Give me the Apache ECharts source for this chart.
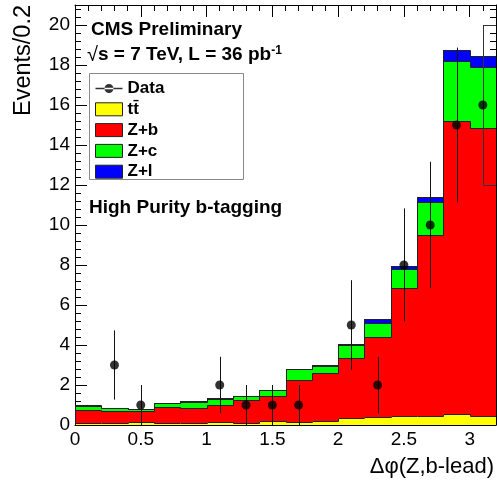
<!DOCTYPE html>
<html>
<head>
<meta charset="utf-8">
<script src="https://cdn.jsdelivr.net/npm/echarts@6/dist/echarts.min.js"></script>
<style>
  html, body { margin: 0; padding: 0; background: #fff; }
  #chart { width: 497px; height: 484px; }
</style>
</head>
<body>
<div id="chart"></div>
<script>
// bins of 0.2 in delta phi
const binEdges = [0, 0.2, 0.4, 0.6, 0.8, 1.0, 1.2, 1.4, 1.6, 1.8, 2.0, 2.2, 2.4, 2.6, 2.8, 3.0, 3.2];
const binCenters = [0.1, 0.3, 0.5, 0.7, 0.9, 1.1, 1.3, 1.5, 1.7, 1.9, 2.1, 2.3, 2.5, 2.7, 2.9, 3.1];

// stacked MC, read bin by bin
const ttbar = [0.10, 0.08, 0.13, 0.10, 0.12, 0.15, 0.12, 0.20, 0.13, 0.22, 0.33, 0.38, 0.43, 0.47, 0.53, 0.47];
const zb    = [0.63, 0.64, 0.55, 0.82, 0.71, 0.83, 1.13, 1.23, 2.12, 2.40, 3.02, 4.02, 6.42, 9.01, 14.67, 14.38];
const zc    = [0.22, 0.11, 0.10, 0.16, 0.32, 0.32, 0.20, 0.30, 0.53, 0.31, 0.63, 0.72, 0.93, 1.69, 3.00, 3.05];
const zl    = [0.03, 0.02, 0.02, 0.02, 0.03, 0.03, 0.02, 0.02, 0.02, 0.07, 0.05, 0.16, 0.19, 0.23, 0.55, 0.55];

// data points and their error bars
const dataCounts = [0, 3, 1, 0, 0, 2, 1, 1, 1, 0, 5, 2, 8, 10, 15, 16];
const dataErrors = [0, 1.73, 1, 0, 0, 1.41, 1, 1, 1, 0, 2.24, 1.41, 2.83, 3.16, 3.87, 4];

// odd outline box at top right (x from, y low, y high)
const cornerBox = [[3.1, 12, 20]];

const xTickValues = [0, 0.5, 1, 1.5, 2, 2.5, 3];
const xTickLabels = ['0', '0.5', '1', '1.5', '2', '2.5', '3'];
const yTickValues = [0, 2, 4, 6, 8, 10, 12, 14, 16, 18, 20];
const yTickLabels = ['0', '2', '4', '6', '8', '10', '12', '14', '16', '18', '20'];

const FONT = '"Liberation Sans", Arial, Helvetica, sans-serif';

const layers = [
  { name: 'tt\u0304', color: '#ffff00', values: ttbar },
  { name: 'Z+b', color: '#ff0000', values: zb },
  { name: 'Z+c', color: '#00ff00', values: zc },
  { name: 'Z+l', color: '#0000ff', values: zl }
];

// build stack
let run = ttbar.map(() => 0);
layers.forEach(l => {
  l.base = run;
  run = run.map((b, i) => b + l.values[i]);
  l.top = run;
});

const points = [];
dataCounts.forEach((v, i) => {
  if (v > 0) points.push({ x: binCenters[i], v: v, e: dataErrors[i] });
});

const lookup = (vals, labels) => v => {
  const k = vals.findIndex(t => Math.abs(t - v) < 1e-6);
  return k < 0 ? '' : labels[k];
};

const px = v => Math.round(v);
const ln = v => Math.round(v) + 0.5;

const fillSeries = layers.map(l => ({
  name: l.name,
  type: 'custom',
  clip: true,
  z: 2,
  itemStyle: { color: l.color },
  data: l.values.map((v, i) => [binEdges[i], binEdges[i + 1], l.base[i], l.top[i]]),
  renderItem: (params, api) => {
    const p0 = api.coord([api.value(0), api.value(2)]);
    const p1 = api.coord([api.value(1), api.value(3)]);
    const x0 = px(p0[0]), x1 = px(p1[0]), yb = px(p0[1]), yt = px(p1[1]);
    return {
      type: 'rect',
      shape: { x: x0, y: yt, width: x1 - x0, height: yb - yt },
      style: { fill: l.color }
    };
  }
}));

const outlineSeries = {
  type: 'custom',
  silent: true,
  clip: true,
  z: 3,
  data: binCenters.map((c, i) => [binEdges[i], binEdges[i + 1], i]),
  renderItem: (params, api) => {
    const i = api.value(2);
    const xa = ln(api.coord([api.value(0), 0])[0]);
    const xb = ln(api.coord([api.value(1), 0])[0]);
    const children = layers.map(l => {
      const yt = ln(api.coord([0, l.top[i]])[1]);
      const yp = ln(api.coord([0, i > 0 ? l.top[i - 1] : 0])[1]);
      return {
        type: 'polyline',
        shape: { points: [[xa, yp], [xa, yt], [xb, yt]] },
        style: { stroke: '#222', lineWidth: 1, fill: null }
      };
    });
    return { type: 'group', children: children };
  }
};

const errorSeries = {
  type: 'custom',
  silent: true,
  clip: true,
  z: 4,
  data: points.map(p => [p.x, p.v - p.e, p.v + p.e]),
  renderItem: (params, api) => {
    const lo = api.coord([api.value(0), api.value(1)]);
    const hi = api.coord([api.value(0), api.value(2)]);
    const x = ln(lo[0]);
    return {
      type: 'line',
      shape: { x1: x, y1: lo[1], x2: x, y2: hi[1] },
      style: { stroke: '#111', lineWidth: 1 }
    };
  }
};

const boxSeries = {
  type: 'custom',
  silent: true,
  clip: true,
  z: 4,
  data: cornerBox,
  renderItem: (params, api) => {
    const lo = api.coord([api.value(0), api.value(1)]);
    const hi = api.coord([api.value(0), api.value(2)]);
    const x = ln(lo[0]);
    return {
      type: 'polyline',
      shape: { points: [[x + 40, ln(hi[1])], [x, ln(hi[1])], [x, ln(lo[1])], [x + 40, ln(lo[1])]] },
      style: { stroke: '#333', lineWidth: 1, fill: null }
    };
  }
};

const dataIcon = 'path://M0,4h27v1.4h-27z M9,4.7a4.5,4.5 0 1,0 9,0a4.5,4.5 0 1,0 -9,0z';

function xAxisOf(pos, interval, len, labels) {
  return {
    type: 'value', position: pos, min: 0, max: 3.2, interval: interval,
    axisLine: { show: len > 10, onZero: false, lineStyle: { color: '#000', width: 1 } },
    axisTick: { show: true, inside: true, length: len, lineStyle: { color: '#000', width: 1 } },
    splitLine: { show: false },
    axisLabel: {
      show: labels, showMaxLabel: false, margin: 5,
      color: '#000', fontFamily: FONT, fontSize: 19,
      formatter: lookup(xTickValues, xTickLabels)
    }
  };
}
function yAxisOf(pos, interval, len, labels) {
  return {
    type: 'value', position: pos, min: 0, max: 21, interval: interval,
    axisLine: { show: len > 10, onZero: false, lineStyle: { color: '#000', width: 1 } },
    axisTick: { show: true, inside: true, length: len, lineStyle: { color: '#000', width: 1 } },
    splitLine: { show: false },
    axisLabel: {
      show: labels, showMaxLabel: false, margin: 5,
      color: '#000', fontFamily: FONT, fontSize: 19,
      formatter: lookup(yTickValues, yTickLabels)
    }
  };
}

const chart = echarts.init(document.getElementById('chart'), null, { renderer: 'canvas' });

chart.setOption({
  animation: false,
  backgroundColor: '#fff',
  grid: { left: 75, right: 1, top: 5, bottom: 59, containLabel: false, outerBoundsMode: 'none' },
  xAxis: [
    xAxisOf('bottom', 0.5, 12, true),
    xAxisOf('bottom', 0.1, 6, false),
    xAxisOf('top', 0.5, 12, false),
    xAxisOf('top', 0.1, 6, false)
  ],
  yAxis: [
    yAxisOf('left', 2, 12, true),
    yAxisOf('left', 0.4, 6, false),
    yAxisOf('right', 2, 12, false),
    yAxisOf('right', 0.4, 6, false)
  ],
  legend: {
    left: 95, top: 80, orient: 'vertical', padding: 0,
    itemWidth: 27, itemHeight: 13, itemGap: 3.8,
    selectedMode: false, symbolKeepAspect: true,
    textStyle: { fontFamily: FONT, fontWeight: 'bold', fontSize: 17, color: '#000' },
    data: [{ name: 'Data', icon: dataIcon, itemStyle: { color: '#000', borderWidth: 0 } }].concat(
      layers.map(l => ({
        name: l.name, icon: 'rect',
        itemStyle: { color: l.color, borderColor: '#222', borderWidth: 1 }
      }))
    )
  },
  graphic: [
    { type: 'rect', z: 1, shape: { x: 89.5, y: 73.5, width: 154, height: 106 },
      style: { fill: '#fff', stroke: '#888', lineWidth: 1 } },
    { type: 'text', z: 10, x: 91, y: 29.5,
      style: { text: 'CMS Preliminary', fontFamily: FONT, fontWeight: 'bold', fontSize: 19,
               fill: '#000', align: 'left', verticalAlign: 'middle' } },
    { type: 'text', z: 10, x: 87, y: 55,
      style: {
        text: '{r|\u221a}{b|s = 7 TeV, L = 36 pb}{s|-1}',
        fontFamily: FONT, fill: '#000', align: 'left', verticalAlign: 'middle',
        rich: {
          r: { fontFamily: FONT, fontSize: 20, fill: '#000' },
          b: { fontFamily: FONT, fontWeight: 'bold', fontSize: 19, fill: '#000' },
          s: { fontFamily: FONT, fontWeight: 'bold', fontSize: 12, fill: '#000', verticalAlign: 'top' }
        }
      } },
    { type: 'text', z: 10, x: 89, y: 207.5,
      style: { text: 'High Purity b-tagging', fontFamily: FONT, fontWeight: 'bold', fontSize: 19,
               fill: '#000', align: 'left', verticalAlign: 'middle' } },
    { type: 'text', z: 10, x: 24, y: 5, rotation: Math.PI / 2,
      style: { text: 'Events/0.2', fontFamily: FONT, fontSize: 23.5, fill: '#000',
               align: 'right', verticalAlign: 'middle' } },
    { type: 'text', z: 10, x: 494, y: 467,
      style: { text: '\u0394\u03c6(Z,b-lead)', fontFamily: FONT, fontSize: 22, fill: '#000',
               align: 'right', verticalAlign: 'middle' } }
  ],
  series: fillSeries.concat([
    outlineSeries,
    errorSeries,
    boxSeries,
    {
      name: 'Data', type: 'scatter', z: 5,
      symbol: 'circle', symbolSize: 9,
      itemStyle: { color: '#000' },
      data: points.map(p => [p.x, p.v])
    }
  ])
});
</script>
</body>
</html>
